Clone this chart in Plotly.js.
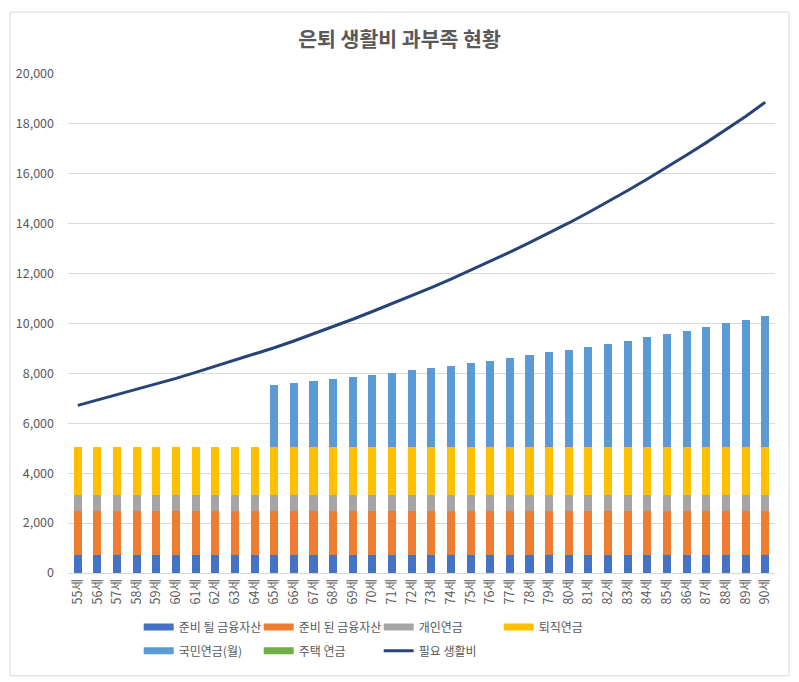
<!DOCTYPE html>
<html>
<head>
<meta charset="utf-8">
<script src="https://cdn.plot.ly/plotly-3.0.1.min.js"></script>
<style>html,body{margin:0;padding:0;background:#fff;}#chart{width:799px;height:682px;}</style>
</head>
<body>
<div id="chart"></div>
<script>
const ages = ['55세','56세','57세','58세','59세','60세','61세','62세','63세','64세','65세','66세','67세','68세','69세','70세','71세','72세','73세','74세','75세','76세','77세','78세','79세','80세','81세','82세','83세','84세','85세','86세','87세','88세','89세','90세'];

const toPrepare = [730,730,730,730,730,730,730,730,730,730,730,730,730,730,730,730,730,730,730,730,730,730,730,730,730,730,730,730,730,730,730,730,730,730,730,730];
const prepared = [1770,1770,1770,1770,1770,1770,1770,1770,1770,1770,1770,1770,1770,1770,1770,1770,1770,1770,1770,1770,1770,1770,1770,1770,1770,1770,1770,1770,1770,1770,1770,1770,1770,1770,1770,1770];
const personalPension = [630,630,630,630,630,630,630,630,630,630,630,630,630,630,630,630,630,630,630,630,630,630,630,630,630,630,630,630,630,630,630,630,630,630,630,630];
const retirementPension = [1910,1910,1910,1910,1910,1910,1910,1910,1910,1910,1910,1910,1910,1910,1910,1910,1910,1910,1910,1910,1910,1910,1910,1910,1910,1910,1910,1910,1910,1910,1910,1910,1910,1910,1910,1910];
const nationalPension = [0,0,0,0,0,0,0,0,0,0,2490,2570,2650,2730,2810,2890,2960,3090,3170,3250,3360,3450,3570,3690,3800,3890,4010,4130,4250,4410,4530,4650,4810,4970,5090,5250];
const housingPension = [0,0,0,0,0,0,0,0,0,0,0,0,0,0,0,0,0,0,0,0,0,0,0,0,0,0,0,0,0,0,0,0,0,0,0,0];
const livingCost = [6720,6930,7140,7360,7580,7800,8040,8280,8520,8780,9030,9300,9580,9870,10170,10480,10790,11110,11440,11780,12130,12490,12860,13240,13630,14030,14450,14880,15330,15790,16260,16750,17250,17770,18300,18870];

const names = ['준비 될 금융자산','준비 된 금융자산','개인연금','퇴직연금','국민연금(월)','주택 연금','필요 생활비'];
const colors = ['#4472C4','#ED7D31','#A5A5A5','#FFC000','#5B9BD5','#70AD47','#264478'];
const series = [toPrepare, prepared, personalPension, retirementPension, nationalPension, housingPension];

const FONT = '"Noto Sans CJK KR", "Noto Sans", sans-serif';
const traces = [];
series.forEach((vals, i) => {
  traces.push({
    type: 'bar', x: ages, y: vals, name: names[i],
    marker: {color: colors[i]}, showlegend: false, legendgroup: 'g' + i,
    hoverinfo: 'x+y+name'
  });
});
// legend swatches (wide flat rectangles like the original)
series.forEach((vals, i) => {
  traces.push({
    type: 'scatter', mode: 'lines', x: [null], y: [null], name: names[i],
    line: {color: colors[i], width: 7}, legendgroup: 'g' + i,
    legend: i < 4 ? 'legend' : 'legend2', hoverinfo: 'skip'
  });
});
traces.push({
  type: 'scatter', mode: 'lines', x: ages, y: livingCost, name: names[6],
  line: {color: colors[6], width: 3}, legend: 'legend2'
});

const legendBase = {
  orientation: 'h', entrywidth: 75, entrywidthmode: 'pixels',
  xref: 'paper', yref: 'paper', x: 0.1, xanchor: 'left', yanchor: 'middle',
  font: {family: FONT, size: 12, color: '#595959'}, traceorder: 'normal',
  bgcolor: 'rgba(0,0,0,0)'
};

const layout = {
  width: 799, height: 682,
  margin: {l: 68, r: 24, t: 74, b: 109},
  paper_bgcolor: '#ffffff', plot_bgcolor: '#ffffff',
  font: {family: FONT, color: '#595959'},
  title: {text: '<b>은퇴 생활비 과부족 현황</b>', x: 0.5, xref: 'container', y: 0.941, yref: 'container', yanchor: 'middle',
          font: {family: FONT, size: 20.5, color: '#595959'}},
  barmode: 'stack', bargap: 0.59,
  xaxis: {
    type: 'category', tickangle: -90, showgrid: false, showline: true, linecolor: '#d9d9d9', linewidth: 1,
    ticks: '', tickfont: {family: FONT, size: 12.5, color: '#595959'}, zeroline: false, fixedrange: true
  },
  yaxis: {
    range: [0, 20000], dtick: 2000, tickformat: ',', showgrid: true, gridcolor: '#d9d9d9', gridwidth: 1,
    zeroline: false, showline: false, ticks: '', ticklabelstandoff: 13,
    tickfont: {family: FONT, size: 12.5, color: '#595959'}, fixedrange: true
  },
  legend: Object.assign({}, legendBase, {y: -0.108}),
  legend2: Object.assign({}, legendBase, {y: -0.156}),
  shapes: [{type: 'rect', xref: 'paper', yref: 'paper', x0: -0.082, x1: 1.02, y0: -0.206, y1: 1.124,
            line: {color: '#d9d9d9', width: 1}, fillcolor: 'rgba(0,0,0,0)', layer: 'below'}],
  showlegend: true
};

Plotly.newPlot('chart', traces, layout, {displayModeBar: false, staticPlot: true});
</script>
</body>
</html>
